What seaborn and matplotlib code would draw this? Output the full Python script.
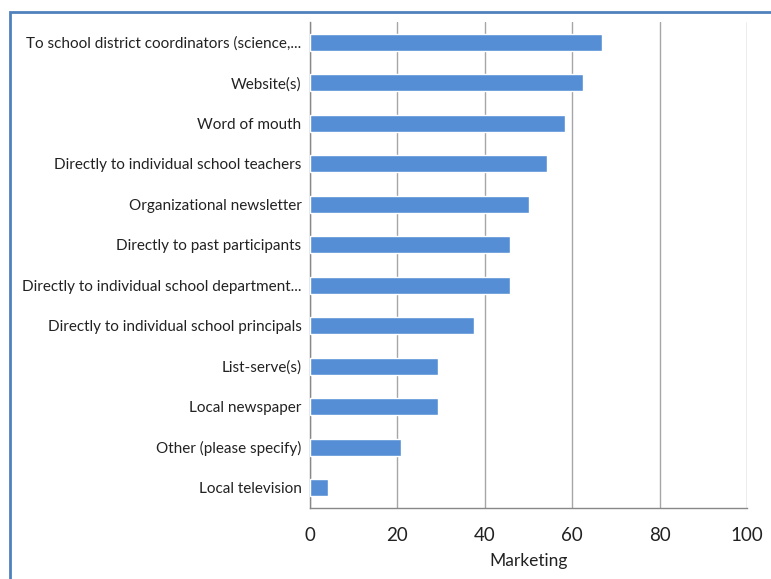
import matplotlib
matplotlib.use('Agg')
import matplotlib.pyplot as plt
import seaborn as sns
import pandas as pd
from matplotlib.patches import Rectangle

# survey answers (percent of respondents)
channels = [
    'To school district coordinators (science,...',
    'Website(s)',
    'Word of mouth',
    'Directly to individual school teachers',
    'Organizational newsletter',
    'Directly to past participants',
    'Directly to individual school department...',
    'Directly to individual school principals',
    'List-serve(s)',
    'Local newspaper',
    'Other (please specify)',
    'Local television',
]
percents = [66.7, 62.5, 58.3, 54.2, 50.0, 45.8, 45.8, 37.5, 29.2, 29.2, 20.8, 4.2]
x_ticks = [0, 20, 40, 60, 80, 100]

df = pd.DataFrame({'channel': channels, 'pct': percents})

sns.set_theme(style='white')
plt.rcParams['font.family'] = ['Lato', 'DejaVu Sans']

fig = plt.figure(figsize=(7.71, 5.79), dpi=100)
ax = fig.add_axes([0.402, 0.1226, 0.567, 0.8394])

sns.barplot(data=df, x='pct', y='channel', color='#558ED5', width=0.42,
            saturation=1, ax=ax, zorder=3)

ax.set_xlim(0, 100)
ax.set_ylim(len(channels) - 0.5, -0.5)
ax.set_xticks(x_ticks)
ax.set_xticklabels([str(t) for t in x_ticks], fontsize=13.5, color='#222222')
ax.tick_params(axis='y', labelsize=11.0, length=0, pad=6, labelcolor='#222222')
ax.set_yticks([i + 0.5 for i in range(-1, len(channels))], minor=True)
ax.tick_params(axis='y', which='minor', length=4, color='#888888', direction='out')
ax.tick_params(axis='x', length=5, color='#888888', direction='inout', pad=11)
ax.grid(axis='x', color='#a6a6a6', linewidth=1, zorder=0)
ax.set_axisbelow(True)
ax.set_xlabel('Marketing', fontsize=12.5, color='#222222', labelpad=7)
ax.set_ylabel('')

for side in ['top', 'right']:
    ax.spines[side].set_visible(False)
for side in ['left', 'bottom']:
    ax.spines[side].set_color('#888888')
    ax.spines[side].set_linewidth(1)

# chart frame
fig.patches.append(Rectangle((10 / 771, -0.05), 1.1, (579 - 12) / 579 + 0.05,
                             transform=fig.transFigure, fill=False,
                             edgecolor='#4F81BD', linewidth=2, zorder=0))

fig.savefig('out.png', dpi=100)
